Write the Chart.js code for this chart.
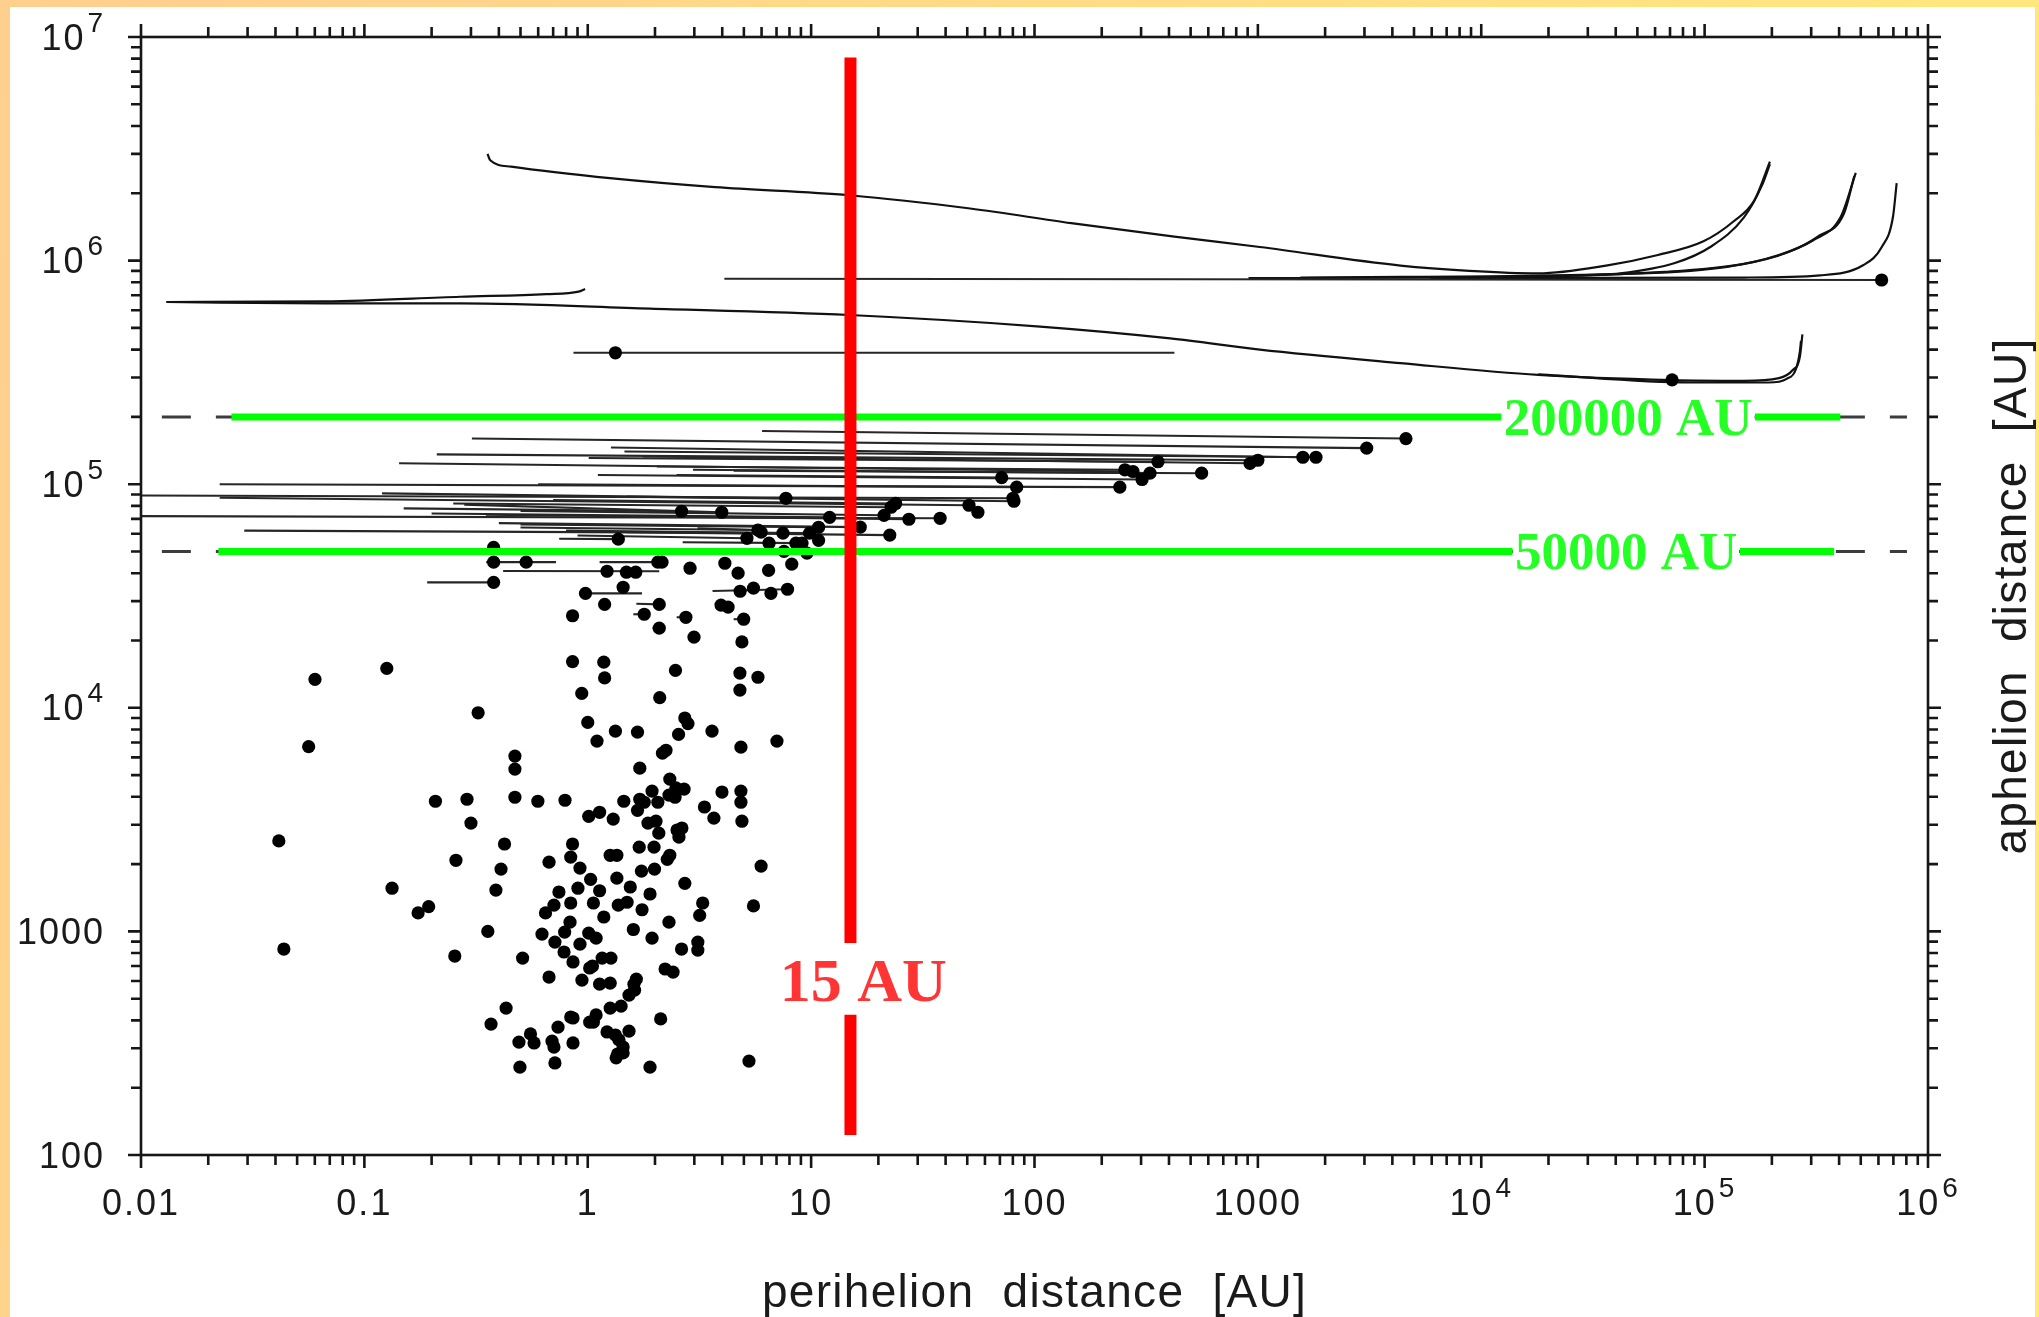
<!DOCTYPE html>
<html>
<head>
<meta charset="utf-8">
<title>perihelion vs aphelion distance</title>
<script src="https://cdn.jsdelivr.net/npm/chart.js@4.4.1/dist/chart.umd.min.js"></script>
<style>
  html, body { margin: 0; padding: 0; background: #fff; overflow: hidden; }
  #orbits { display: block; }
</style>
</head>
<body>
<canvas id="orbits" width="2039" height="1317"></canvas>
<script>
// [perihelion AU, aphelion AU]
const cometsLow = [
  [1.19,2.9e4],[2.09,2.9e4],[3.95,2.88e4],[4.25,2.82e4],[0.855,2.58e4],[1.79,2.62e4],[2.75,2.54e4],[4.99,2.49e4],[2.09,2.27e4],[2.99,2.07e4],[4.9,1.97e4],
  [0.855,1.61e4],[1.18,1.6e4],[1.19,1.36e4],[2.47,1.47e4],[4.8,1.43e4],[5.78,1.37e4],[4.8,1.2e4],[0.94,1.16e4],[2.1,1.11e4],[0.0601,1.34e4],[0.126,1.5e4],
  [0.323,9.5e3],[0.0563,6.7e3],[1.0,8.6e3],[1.33,7.86e3],[1.67,7.78e3],[1.1,7.1e3],[2.72,9.0e3],[2.81,8.5e3],[2.55,7.6e3],[3.6,7.86e3],[4.85,6.67e3],[7.03,7.1e3],
  [2.16,6.27e3],[2.24,6.46e3],[0.472,6.08e3],[0.472,5.32e3],[1.71,5.37e3],[2.33,4.8e3],[2.48,4.38e3],[2.7,4.33e3],[1.94,4.24e3],[2.31,4.07e3],[2.46,3.98e3],
  [3.99,4.2e3],[4.85,4.24e3],[4.85,3.78e3],[4.9,3.11e3],[0.208,3.82e3],[0.288,3.9e3],[0.30,3.05e3],[0.472,3.98e3],[0.598,3.82e3],[0.791,3.86e3],[1.45,3.82e3],
  [1.71,3.9e3],[1.79,3.78e3],[1.67,3.48e3],[2.06,3.78e3],[3.33,3.6e3],[3.67,3.21e3],[1.01,3.27e3],[1.13,3.41e3],[1.3,3.18e3],[1.86,3.05e3],[2.02,3.11e3],
  [2.08,2.75e3],[2.51,2.84e3],[2.64,2.9e3],[2.56,2.64e3],[0.0414,2.54e3],[0.424,2.46e3],[0.257,2.08e3],[0.409,1.9e3],[0.671,2.04e3],[0.855,2.46e3],[0.839,2.15e3],
  [1.7,2.38e3],[1.98,2.38e3],[1.26,2.19e3],[1.35,2.19e3],[2.33,2.19e3],[2.27,2.1e3],[0.923,1.92e3],[1.03,1.71e3],[1.35,1.73e3],[1.74,1.86e3],[1.99,1.9e3],
  [2.72,1.64e3],[0.133,1.56e3],[0.388,1.53e3],[0.743,1.5e3],[0.904,1.56e3],[1.13,1.52e3],[1.55,1.58e3],[1.9,1.47e3],[5.97,1.96e3],[0.174,1.21e3],[0.194,1.29e3],
  [0.706,1.31e3],[0.647,1.21e3],[0.839,1.34e3],[1.06,1.34e3],[1.37,1.31e3],[1.5,1.35e3],[1.75,1.25e3],[3.27,1.34e3],[3.17,1.18e3],[5.52,1.3e3],[1.18,1.16e3],
  [0.357,1.0e3],[0.624,973],[0.833,1.1e3],[0.788,993],[1.01,983],[1.09,933],[0.713,896],[0.923,877],[1.6,1.02e3],[1.94,933],[2.31,1.1e3],[2.63,834],[3.11,896],[3.11,825],
  [0.0436,834],[0.254,776],[0.511,760],[0.783,809],[0.859,730],[1.16,760],[1.27,760],[1.02,686],[1.05,700],[0.671,625],[0.942,605],[1.13,581],[1.26,587],
  [1.61,581],[1.65,612],[2.22,679],[2.41,658],[1.53,519],[1.62,546],[1.41,463],[1.26,454],[1.09,423],[1.06,393],[1.02,393],[0.859,410],[0.839,414],
  [0.431,454],[0.369,385],[0.736,373],[0.554,348],[0.575,317],[0.492,320],[0.692,323],[0.706,304],[0.859,317],[1.22,355],[1.33,344],[1.53,358],
  [1.38,327],[1.44,304],[1.36,283],[1.34,272],[1.44,286],[2.12,406],[0.497,247],[0.713,258],[1.9,247],[5.27,263]
];
const cometsMid = [
  [7.71,8.65e4],[2.63,7.57e4],[3.98,7.49e4],[12.1,7.11e4],[10.8,6.42e4],[10.8,5.61e4],[5.78,6.24e4],[7.48,6.04e4],[9.84,6.04e4],[5.16,5.73e4],[6.48,5.45e4],
  [9.58,4.92e4],[8.55,5.45e4],[9.1,5.45e4],[5.97,6.1e4],[7.56,5.01e4],[1.37,5.68e4],[0.379,5.22e4],[0.379,4.48e4],[0.53,4.48e4],[2.06,4.48e4],[2.15,4.48e4],
  [1.22,4.08e4],[1.49,4.04e4],[1.64,4.04e4],[2.87,4.21e4],[4.11,4.43e4],[4.71,4.0e4],[6.45,4.12e4],[8.19,4.39e4],[0.379,3.64e4],[0.977,3.25e4],[1.44,3.46e4],
  [4.81,3.32e4],[5.52,3.43e4],[6.61,3.25e4],[7.84,3.39e4],[21.2,7.26e4],[22.8,7.89e4],[23.9,8.2e4],[27.4,6.97e4],[37.8,7.04e4],[50.9,8.05e4],[55.8,7.49e4],
  [80.9,8.39e4],[16.6,6.43e4],[22.5,5.92e4],[4600,1.6e5],[3070,1.45e5],[1590,1.32e5],[1820,1.32e5],[922,1.24e5],[1000,1.28e5],[357,1.26e5],[254,1.16e5],
  [276,1.14e5],[303,1.05e5],[329,1.12e5],[560,1.12e5],[241,9.7e4],[83.2,9.7e4],[80.1,8.65e4],[71.3,1.07e5]
];
const cometsFar = [[1.33,3.87e5],[6.2e5,8.19e5],[7.15e4,2.93e5]];

// evolution tracks: [q start, Q start, q end, Q end]
const tracks = [
  [6.03,1.73e5,4600,1.6e5],[0.303,1.6e5,3070,1.45e5],[1.27,1.46e5,1590,1.32e5],[1.46,1.4e5,1820,1.32e5],
  [0.211,1.36e5,1000,1.28e5],[1.76,1.33e5,922,1.24e5],[1.01,1.31e5,357,1.26e5],[0.143,1.24e5,276,1.14e5],
  [2.04,1.2e5,254,1.16e5],[2.96,1.16e5,329,1.12e5],[1.11,1.1e5,303,1.05e5],[4.5,1.15e5,560,1.12e5],
  [0.0225,1.0e5,241,9.7e4],[2.5,1.1e5,71.3,1.07e5],[0.6,1.0e5,83.2,9.7e4],[0.01,8.9e4,80.1,8.65e4],
  [1.5,8.8e4,80.9,8.39e4],[0.0225,8.7e4,50.9,8.05e4],[0.01,7.2e4,37.8,7.04e4],[0.7,8.5e4,23.9,8.2e4],
  [0.25,8.2e4,22.8,7.89e4],[0.5,7.6e4,21.2,7.26e4],[0.35,7.3e4,27.4,6.97e4],[0.4,6.7e4,16.6,6.43e4],
  [1.5,6.1e4,22.5,5.92e4],[0.2,7.4e4,12.1,7.11e4],[0.029,6.2e4,9.84,6.04e4],[0.5,6.6e4,10.8,6.42e4],
  [0.28,8.1e4,3.98,7.49e4],[0.15,7.8e4,2.63,7.57e4],[0.12,9.1e4,7.71,8.65e4],[0.5,6.4e4,5.78,6.24e4],
  [0.8,6.2e4,7.48,6.04e4],[0.9,5.9e4,5.16,5.73e4],[0.745,5.7e4,1.37,5.68e4],[2.66,5.5e4,9.1,5.45e4],
  [3.1,6.35e4,5.78,6.24e4],[3.2,5.0e4,9.58,4.92e4],[0.351,4.48e4,0.721,4.48e4],[0.418,4.09e4,2.09,4.08e4],
  [0.191,3.64e4,0.379,3.64e4],[0.977,3.25e4,1.75,3.25e4],[1.65,2.92e4,2.09,2.9e4],[3.62,3.33e4,7.84,3.39e4],
  [1.13,4.48e4,2.15,4.48e4],[1.6,2.62e4,1.79,2.62e4],[2.5,2.54e4,2.75,2.54e4],[4.5,2.49e4,4.99,2.49e4],
  [1.95,2.27e4,2.09,2.27e4],[0.863,3.87e5,423,3.87e5],[4.09,8.3e5,6.2e5,8.19e5]
];

// long curved tracks
const orbitA = [[0.356,3.0e6],[0.366,2.81e6],[0.454,2.63e6],[1.29,2.33e6],[3.72,2.13e6],[14.8,1.96e6],[51.5,1.71e6],[146,1.47e6],[423,1.28e6],[1020,1.15e6],
  [4350,9.5e5],[8850,9.0e5],[1.8e4,8.77e5],[3.62e4,9.5e5],[6.18e4,1.06e6],[9.88e4,1.22e6],[1.35e5,1.5e6],[1.67e5,1.86e6],[1.96e5,2.77e6]];
const orbitB = [[908,8.35e5],[5920,8.4e5],[2.26e4,8.53e5],[4.19e4,8.77e5],[7.36e4,9.75e5],[1.06e5,1.15e6],[1.5e5,1.56e6],[1.81e5,2.18e6],[1.96e5,2.7e6]];
const orbitC = [[1550,8.4e5],[5.2e4,8.77e5],[1.26e5,9.38e5],[2.15e5,1.06e6],[3.05e5,1.23e6],[4.07e5,1.57e6],[4.75e5,2.47e6]];
const orbitC2 = [[5920,8.35e5],[6.62e4,8.9e5],[1.48e5,9.64e5],[2.36e5,1.09e6],[3.21e5,1.28e6],[4.2e5,1.62e6],[4.68e5,2.39e6]];
const orbitD = [[5920,8.35e5],[1.5e5,8.4e5],[3.29e5,8.59e5],[5.12e5,9.53e5],[6.21e5,1.15e6],[6.97e5,1.57e6],[7.24e5,2.22e6]];
const orbitLow = [[0.013,6.53e5],[0.0667,6.44e5],[0.269,6.44e5],[1.9,6.1e5],[14.8,5.71e5],[106,5.07e5],[405,4.49e5],[1020,4.0e5],[4350,3.48e5],
  [1.8e4,3.08e5],[7.15e4,2.92e5],[1.5e5,2.9e5],[2.15e5,2.98e5],[2.48e5,3.24e5],[2.67e5,3.72e5],[2.74e5,4.68e5]];
const orbitLow2 = [[1.8e4,3.1e5],[8.65e4,2.85e5],[1.93e5,2.85e5],[2.33e5,2.96e5],[2.56e5,3.26e5],[2.67e5,3.93e5],[2.7e5,4.37e5]];
const orbitShort = [[0.013,6.53e5],[0.0667,6.57e5],[0.269,6.89e5],[0.652,7.08e5],[0.91,7.27e5],[0.973,7.47e5]];

const cutQ = 15;
const cutQRanges = [[8.1e6, 887], [424, 123]];
const aphLimits = [2e5, 5e4];
const aphLimitSpans = [[[0.0254, 1.23e4], [1.68e5, 4.05e5]], [[0.0222, 1.38e4], [1.44e5, 3.8e5]]];
const dashSpan = [0.0124, 8.05e5];

const xTickVals = [0.01, 0.1, 1, 10, 100, 1000, 1e4, 1e5, 1e6];
const xTickText = ['0.01', '0.1', '1', '10', '100', '1000', '10', '10', '10'];
const xTickExp = ['', '', '', '', '', '', '4', '5', '6'];
const yTickVals = [100, 1000, 1e4, 1e5, 1e6, 1e7];
const yTickText = ['100', '1000', '10', '10', '10', '10'];
const yTickExp = ['', '', '4', '5', '6', '7'];

function pts(list) {
  return list.map(function (p) { return {x: p[0], y: p[1]}; });
}

const SANS = '"Liberation Sans", Arial, Helvetica, sans-serif';
const SERIF = '"Liberation Serif", "Times New Roman", serif';

function tickLabel(c, base, exp, x, y, align) {
  c.font = '36px ' + SANS;
  let wb = c.measureText(base).width;
  let we = 0;
  if (exp) {
    c.font = '28px ' + SANS;
    we = c.measureText(exp).width + 2;
  }
  let left = align === 'center' ? x - (wb + we) / 2 : x - (wb + we);
  c.font = '36px ' + SANS;
  c.fillText(base, left, y);
  if (exp) {
    c.font = '28px ' + SANS;
    c.fillText(exp, left + wb + 2, y - 18);
  }
}

function note(c, text, px, py, color, size) {
  c.font = 'bold ' + size + 'px ' + SERIF;
  let w = c.measureText(text).width;
  c.fillStyle = '#fff';
  c.fillRect(px - w / 2 - 2, py - size * 0.37, w + 4, size * 0.74);
  c.fillStyle = color;
  c.textAlign = 'center';
  c.fillText(text, px, py + size * 0.338);
}

const paper = {
  id: 'paper',
  beforeDraw: function (chart) {
    const c = chart.ctx;
    let g = c.createLinearGradient(0, 0, chart.width, 600);
    g.addColorStop(0, '#ffcf8e');
    g.addColorStop(1, '#ffe97c');
    c.save();
    c.fillStyle = g;
    c.fillRect(0, 0, chart.width, chart.height);
    c.fillStyle = '#fff';
    c.fillRect(10, 7, chart.width - 14, chart.height - 7);
    c.restore();
  },
  afterDatasetsDraw: function (chart) {
    const c = chart.ctx, xs = chart.scales.x, ys = chart.scales.y;
    c.save();
    c.textBaseline = 'alphabetic';
    note(c, '200000 AU', xs.getPixelForValue(4.55e4), ys.getPixelForValue(aphLimits[0]), '#24ff24', 53);
    note(c, '50000 AU', xs.getPixelForValue(4.45e4), ys.getPixelForValue(aphLimits[1]), '#24ff24', 53);
    note(c, '15 AU', xs.getPixelForValue(17.1), ys.getPixelForValue(605), '#ff3535', 62);
    c.restore();
  },
  afterDraw: function (chart) {
    const c = chart.ctx, xs = chart.scales.x, ys = chart.scales.y, a = chart.chartArea;
    c.save();
    c.strokeStyle = '#161616';
    c.lineWidth = 2.6;
    c.strokeRect(a.left, a.top, a.right - a.left, a.bottom - a.top);
    c.beginPath();
    for (let d = -2; d <= 6; d++) {
      for (let m = 1; m < 10; m++) {
        let v = m * Math.pow(10, d);
        if (v > 1.0001e6) break;
        let px = xs.getPixelForValue(v);
        let len = m === 1 ? 13 : 10;
        c.moveTo(px, a.bottom); c.lineTo(px, a.bottom + len);
        c.moveTo(px, a.top); c.lineTo(px, a.top - len);
      }
    }
    for (let d = 2; d <= 7; d++) {
      for (let m = 1; m < 10; m++) {
        let v = m * Math.pow(10, d);
        if (v > 1.0001e7) break;
        let py = ys.getPixelForValue(v);
        let len = m === 1 ? 13 : 10;
        c.moveTo(a.left, py); c.lineTo(a.left - len, py);
        c.moveTo(a.right, py); c.lineTo(a.right + len, py);
      }
    }
    c.stroke();

    c.fillStyle = '#1a1a1a';
    c.textAlign = 'left';
    c.textBaseline = 'alphabetic';
    c.letterSpacing = '2px';
    for (let i = 0; i < xTickVals.length; i++) {
      tickLabel(c, xTickText[i], xTickExp[i], xs.getPixelForValue(xTickVals[i]), a.bottom + 60, 'center');
    }
    for (let i = 0; i < yTickVals.length; i++) {
      tickLabel(c, yTickText[i], yTickExp[i], a.left - 36, ys.getPixelForValue(yTickVals[i]) + 12.5, 'right');
    }

    c.font = '46px ' + SANS;
    c.letterSpacing = '1.3px';
    c.textAlign = 'center';
    c.fillText('perihelion  distance  [AU]', (a.left + a.right) / 2, a.bottom + 152);
    c.translate(a.right + 98, (a.top + a.bottom) / 2);
    c.rotate(-Math.PI / 2);
    c.fillText('aphelion  distance  [AU]', 0, 0);
    c.letterSpacing = '0px';
    c.restore();
  }
};

window.addEventListener('load', function () {
  let sets = [];

  // red perihelion cut and green aphelion limits (on top)
  cutQRanges.forEach(function (r) {
    sets.push({data: [{x: cutQ, y: r[0]}, {x: cutQ, y: r[1]}], showLine: true, pointRadius: 0,
      borderColor: '#ff0000', borderWidth: 12, borderCapStyle: 'butt', order: 0});
  });
  aphLimits.forEach(function (q, i) {
    aphLimitSpans[i].forEach(function (s) {
      sets.push({data: [{x: s[0], y: q}, {x: s[1], y: q}], showLine: true, pointRadius: 0,
        borderColor: '#00ff00', borderWidth: 7, borderCapStyle: 'butt', order: 0});
    });
  });

  sets.push({data: pts(cometsLow.concat(cometsMid, cometsFar)), pointRadius: 6.6, pointBackgroundColor: '#000',
    pointBorderWidth: 0, order: 1});

  aphLimits.forEach(function (q) {
    sets.push({data: [{x: dashSpan[0], y: q}, {x: dashSpan[1], y: q}], showLine: true, pointRadius: 0,
      borderColor: '#3c3c3c', borderWidth: 3, borderDash: [29, 25], order: 2});
  });

  tracks.forEach(function (t) {
    sets.push({data: [{x: t[0], y: t[1]}, {x: t[2], y: t[3]}], showLine: true, pointRadius: 0,
      borderColor: '#262626', borderWidth: 2.1, order: 3});
  });
  [orbitA, orbitB, orbitC, orbitC2, orbitD, orbitLow, orbitLow2, orbitShort].forEach(function (o) {
    sets.push({data: pts(o), showLine: true, pointRadius: 0, borderColor: '#111', borderWidth: 2.2,
      cubicInterpolationMode: 'monotone', order: 3});
  });

  let context = document.querySelector('#orbits').getContext('2d');
  new Chart(context, {
    type: 'scatter',
    data: {datasets: sets},
    options: {
      responsive: false,
      animation: false,
      devicePixelRatio: 1,
      events: [],
      layout: {autoPadding: false, padding: {left: 141, right: 111, top: 37, bottom: 162}},
      plugins: {legend: {display: false}, tooltip: {enabled: false}},
      scales: {
        x: {type: 'logarithmic', min: 0.01, max: 1e6, display: false},
        y: {type: 'logarithmic', min: 100, max: 1e7, display: false}
      }
    },
    plugins: [paper]
  });
});
</script>
</body>
</html>
